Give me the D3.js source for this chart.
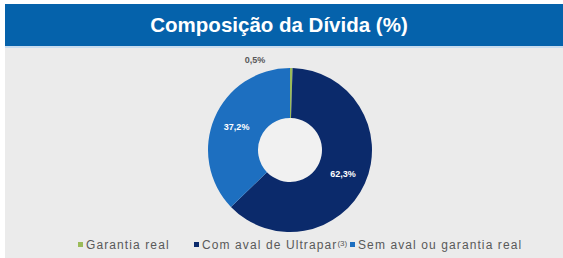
<!DOCTYPE html>
<html>
<head>
<meta charset="utf-8">
<script src="https://cdn.jsdelivr.net/npm/d3@7"></script>
<style>
  html, body { margin: 0; padding: 0; background: #ffffff; }
  svg { display: block; }
</style>
</head>
<body>
<div id="chart"></div>
<script>
'use strict';

const title = 'Composição da Dívida (%)';
const categories = ['Garantia real', 'Com aval de Ultrapar', 'Sem aval ou garantia real'];
const values = [0.5, 62.3, 37.2];
const labels = ['0,5%', '62,3%', '37,2%'];
const colors = ['#9bbb59', '#0b2a6b', '#1d6fc0'];

const width = 563;
const height = 258;

const svg = d3.select('#chart').append('svg')
    .attr('width', width)
    .attr('height', height);

// fundo cinza
svg.append('rect')
    .attr('x', 5).attr('y', 4)
    .attr('width', width - 5).attr('height', height - 4)
    .attr('fill', '#ebebeb');

// barra do título
svg.append('rect')
    .attr('x', 5).attr('y', 4)
    .attr('width', width - 5).attr('height', 42)
    .attr('fill', '#0562ab');
svg.append('rect')
    .attr('x', 5).attr('y', 46)
    .attr('width', width - 5).attr('height', 2)
    .attr('fill', '#c9dcef');

svg.append('text')
    .attr('x', 279).attr('y', 32)
    .attr('text-anchor', 'middle')
    .attr('fill', '#ffffff')
    .style('font-family', 'Liberation Sans, Arial, sans-serif')
    .style('font-weight', 'bold')
    .style('font-size', '20.5px')
    .text(title);

// rosca
const cx = 290, cy = 150;
const outerR = 82, innerR = 32;

const pie = d3.pie().sort(null).value(d => d);
const arcs = pie(values);
const arc = d3.arc().innerRadius(innerR).outerRadius(outerR);

const g = svg.append('g').attr('transform', `translate(${cx},${cy})`);

g.append('circle').attr('r', innerR).attr('fill', '#f1f1f1');

g.selectAll('path.slice')
    .data(arcs)
    .enter().append('path')
    .attr('class', 'slice')
    .attr('d', arc)
    .attr('fill', (d, i) => colors[i]);

// rótulos
const labelArc = d3.arc().innerRadius(58).outerRadius(58);
g.selectAll('text.lbl')
    .data(arcs)
    .enter().append('text')
    .attr('class', 'lbl')
    .attr('transform', (d, i) => {
        if (i === 0) {
            return `translate(${-35},${-90})`;
        }
        const c = labelArc.centroid(d);
        return `translate(${c[0]},${c[1]})`;
    })
    .attr('text-anchor', 'middle')
    .attr('dy', '0.35em')
    .attr('fill', (d, i) => i === 0 ? '#595959' : '#ffffff')
    .style('font-family', 'Liberation Sans, Arial, sans-serif')
    .style('font-weight', 'bold')
    .style('font-size', '9px')
    .text((d, i) => labels[i]);

// legenda
const legendX = [80, 196, 352];
const legend = svg.append('g')
    .style('font-family', 'Liberation Sans, Arial, sans-serif')
    .style('font-size', '12px')
    .style('letter-spacing', '1.1px');

categories.forEach((name, i) => {
    const item = legend.append('g').attr('transform', `translate(${legendX[i]},${245})`);
    item.append('rect')
        .attr('x', -2).attr('y', -3)
        .attr('width', 5).attr('height', 5)
        .attr('fill', colors[i]);
    const t = item.append('text')
        .attr('x', 6).attr('y', 0)
        .attr('dy', '0.35em')
        .attr('fill', '#595959')
        .text(name);
    if (i === 1) {
        t.append('tspan')
            .attr('dy', '-0.45em')
            .style('font-size', '8px')
            .style('letter-spacing', '0px')
            .text('(3)');
    }
});
</script>
</body>
</html>
